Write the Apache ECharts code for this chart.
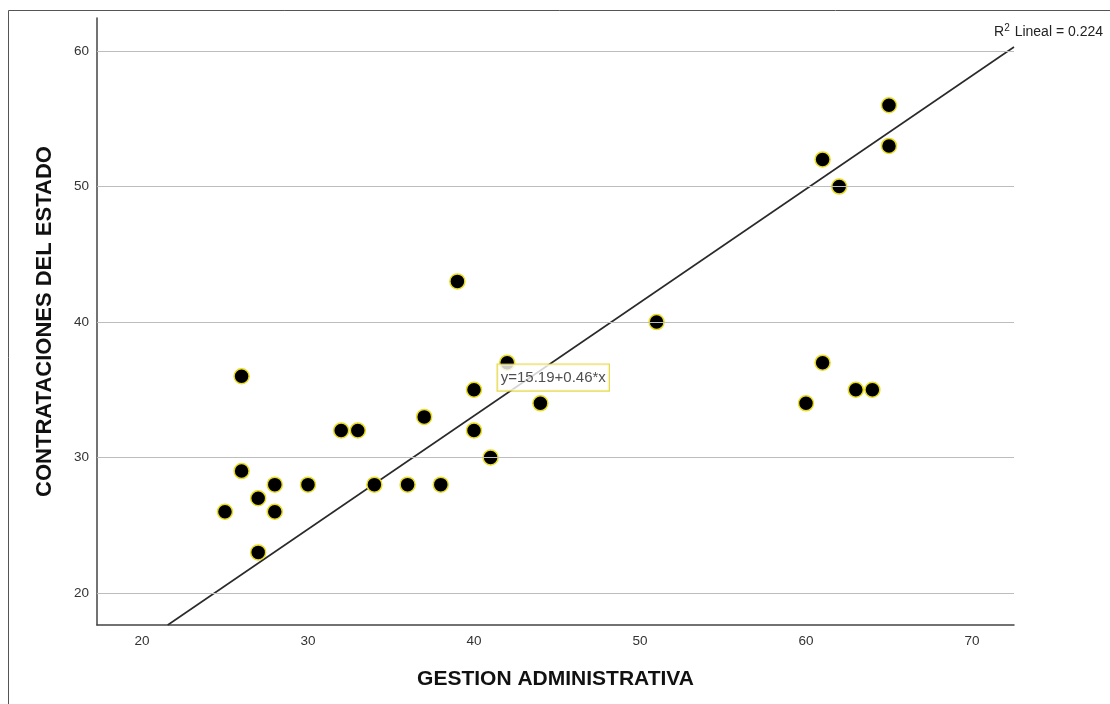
<!DOCTYPE html>
<html><head><meta charset="utf-8">
<script src="https://cdn.jsdelivr.net/npm/echarts@6/dist/echarts.min.js"></script>
<style>html,body{margin:0;padding:0;background:#fff}#c{width:1110px;height:704px}</style>
</head><body><div id="c"></div>
<script>
const gestion = [25,26,26,27,27,28,28,30,32,33,34,36,37,38,39,40,40,41,42,44,51,60,61,61,62,63,64,65,65];
const contrat = [26,36,29,27,23,28,26,28,32,32,28,28,33,28,43,35,32,30,37,34,40,34,37,52,50,35,35,56,53];
const trendX = [21.55, 72.53];
const trendY = [17.64, 60.3];
const xTicks = [20,30,40,50,60,70];
const yTicks = [20,30,40,50,60];
const eqLabel = 'y=15.19+0.46*x';
const eqAnchor = [41.4, 35.9];
const r2Text = 'Lineal = 0.224';

const pts = gestion.map((x,i)=>[x, contrat[i]]);
const chart = echarts.init(document.getElementById('c'));
const font = 'Liberation Sans, Arial, sans-serif';
chart.setOption({
  animation:false,
  backgroundColor:'#fff',
  grid:{left:97,right:96,top:18,bottom:79},
  xAxis:{type:'value',min:17.29,max:72.53,
    name:'GESTION ADMINISTRATIVA',nameLocation:'middle',nameGap:44,
    nameTextStyle:{fontFamily:font,fontSize:21,fontWeight:'bold',color:'#111'},
    axisLine:{show:true,lineStyle:{color:'#444',width:1.5}},
    axisTick:{show:false},
    splitLine:{show:false},
    axisLabel:{customValues:xTicks,fontFamily:font,fontSize:13.5,color:'#333',margin:9}
  },
  yAxis:{type:'value',min:17.64,max:62.44,
    name:'CONTRATACIONES DEL ESTADO',nameLocation:'middle',nameGap:41,
    nameTextStyle:{fontFamily:font,fontSize:22,fontWeight:'bold',color:'#111'},
    axisLine:{show:true,lineStyle:{color:'#444',width:1.5}},
    axisTick:{show:false},
    splitLine:{show:false},
    axisLabel:{customValues:yTicks,fontFamily:font,fontSize:13.5,color:'#333',margin:8}
  },
  graphic:[
    {type:'rect',shape:{x:8.5,y:10.5,width:1200,height:800},style:{fill:'none',stroke:'#555',lineWidth:1},silent:true},
    {type:'text',right:7,top:23,style:{rich:{s:{fontSize:10,fontFamily:font,fill:'#222',verticalAlign:'top',padding:[0,1,9,0]},n:{fontSize:14,fontFamily:font,fill:'#222'}},text:'{n|R}{s|2}{n| '+r2Text+'}'}}
  ],
  series:[
    {type:'line',data:[],markLine:{silent:true,symbol:'none',label:{show:false},lineStyle:{color:'#bdbdbd',width:1.2,type:'solid'},data:yTicks.map(v=>({yAxis:v}))}},
    {type:'line',data:trendX.map((x,i)=>[x,trendY[i]]),showSymbol:false,symbol:'none',lineStyle:{color:'#2a2a2a',width:1.6},z:3,silent:true},
    {type:'scatter',data:pts,symbolSize:15,itemStyle:{color:'#000',opacity:1,borderColor:'#e8dc20',borderWidth:1.5},z:4},
    {type:'scatter',data:[eqAnchor],symbolSize:1,itemStyle:{color:'rgba(0,0,0,0)'},z:6,
      label:{show:true,position:'right',distance:0,formatter:eqLabel,fontFamily:font,fontSize:15,color:'#222',
        backgroundColor:'#fff',borderColor:'#e0d020',borderWidth:1.2,padding:[6,3,5,3]}}
  ]
});
</script></body></html>
